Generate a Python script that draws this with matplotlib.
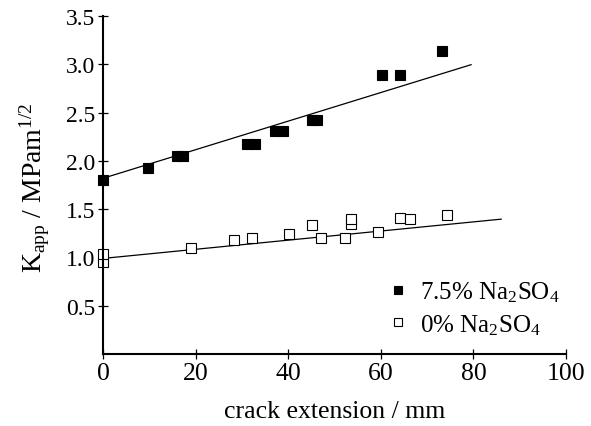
import matplotlib
matplotlib.use("Agg")
import matplotlib.pyplot as plt
import numpy as np

plt.rcParams.update({
    "font.family": "Liberation Serif",
    "mathtext.fontset": "custom",
    "mathtext.rm": "Liberation Serif",
    "mathtext.it": "Liberation Serif:italic",
})

# 7.5% Na2SO4 (filled squares)
x_75 = [0, 9.8, 16.0, 17.2, 31.2, 32.8, 37.2, 38.8, 45.2, 46.2, 60.3, 64.2, 73.2]
y_75 = [1.80, 1.93, 2.05, 2.05, 2.17, 2.17, 2.31, 2.31, 2.42, 2.42, 2.89, 2.89, 3.14]
fit_75 = (1.82, 0.0148)   # intercept, slope
fit_75_x = [0, 79.5]

# 0% Na2SO4 (open squares)
x_0 = [0, 0, 19, 28.3, 32.1, 40.1, 45.2, 47.1, 52.3, 53.5, 53.5, 59.3, 64.1, 66.4, 74.4]
y_0 = [0.95, 1.04, 1.10, 1.18, 1.20, 1.24, 1.335, 1.20, 1.20, 1.345, 1.395, 1.26, 1.405, 1.40, 1.44]
fit_0 = (0.99, 0.00473)
fit_0_x = [0, 86]

fig = plt.figure(figsize=(5.91, 4.27), dpi=100)
ax = fig.add_axes([0.1743, 0.1686, 0.7834, 0.7914])

xf = np.array(fit_75_x)
ax.plot(xf, fit_75[0] + fit_75[1] * xf, color="black", lw=0.9)
xf = np.array(fit_0_x)
ax.plot(xf, fit_0[0] + fit_0[1] * xf, color="black", lw=0.9)

ax.plot(x_75, y_75, "s", ms=7, mfc="black", mec="black", mew=0.8,
        label=r"7.5% Na$_2$SO$_4$", clip_on=False)
ax.plot(x_0, y_0, "s", ms=7, mfc="white", mec="black", mew=0.8,
        label=r"0% Na$_2$SO$_4$", clip_on=False)

ax.set_xlim(0, 100)
ax.set_ylim(0, 3.5)
ax.set_xticks([0, 20, 40, 60, 80, 100])
ax.set_yticks([0.5, 1.0, 1.5, 2.0, 2.5, 3.0, 3.5])
ax.set_yticklabels(["0.5", "1.0", "1.5", "2.0", "2.5", "3.0", "3.5"])
ax.spines["top"].set_visible(False)
ax.spines["right"].set_visible(False)
ax.spines["left"].set_linewidth(1.5)
ax.spines["bottom"].set_linewidth(1.5)
ax.tick_params(direction="inout", length=7, width=0.9, pad=2)
ax.tick_params(axis="x", labelsize=18.5)
ax.tick_params(axis="y", labelsize=17)

ax.set_xlabel("crack extension / mm", fontsize=18.5, labelpad=12)
ax.set_ylabel(r"K$_{\rm app}$ / MPam$^{1/2}$", fontsize=20)
ax.yaxis.set_label_coords(-0.11, 0.495)

leg = ax.legend(loc="lower right", bbox_to_anchor=(1.035, -0.015), frameon=False,
                fontsize=18, handlelength=0.6, handletextpad=0.6,
                labelspacing=0.3, markerscale=0.75)

fig.savefig("out.png", dpi=100)
